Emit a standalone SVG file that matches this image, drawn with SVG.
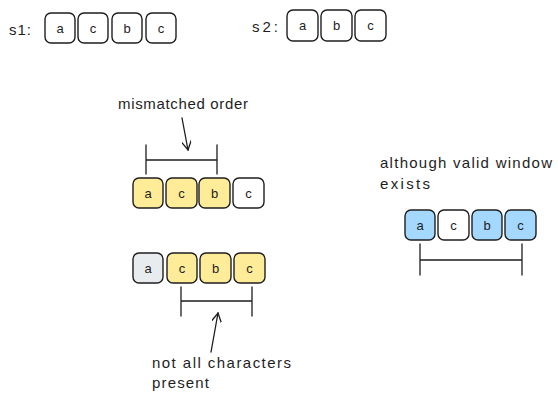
<svg xmlns="http://www.w3.org/2000/svg" width="558" height="403" viewBox="0 0 558 403">
<defs>
<style>
.t{font-family:"Liberation Sans","DejaVu Sans",sans-serif;font-size:15px;fill:#1e1e1e}
.c{font-family:"Liberation Sans","DejaVu Sans",sans-serif;font-size:13px;fill:#1e1e1e;text-anchor:middle}
.b{stroke:#1e1e1e;stroke-width:1.4;fill:#ffffff}
.y{fill:#ffec99}
.bl{fill:#a5d8ff}
.g{fill:#e9ecef}
.ln{stroke:#1e1e1e;stroke-width:1.3;fill:none;stroke-linecap:round}
</style>
<marker id="ah" viewBox="0 0 10 10" refX="9" refY="5" markerWidth="10" markerHeight="10" orient="auto-start-reverse" markerUnits="userSpaceOnUse">
<path d="M0,0 L9,5 L0,10" fill="none" stroke="#1e1e1e" stroke-width="1.3"/>
</marker>
</defs>
<rect width="558" height="403" fill="#ffffff"/>

<g id="s1">
<text class="t" x="9" y="35" textLength="22">s1:</text>
<g id="s1-0"><rect class="b" x="45" y="13" width="30" height="30" rx="6"/><text class="c" x="60" y="32.5">a</text></g>
<g id="s1-1"><rect class="b" x="78" y="13" width="30" height="30" rx="6"/><text class="c" x="93" y="32.5">c</text></g>
<g id="s1-2"><rect class="b" x="112" y="13" width="30" height="30" rx="6"/><text class="c" x="127" y="32.5">b</text></g>
<g id="s1-3"><rect class="b" x="146" y="13" width="30" height="30" rx="6"/><text class="c" x="161" y="32.5">c</text></g>
</g>

<g id="s2">
<text class="t" x="252" y="32" textLength="26">s2:</text>
<g id="s2-0"><rect class="b" x="287" y="10" width="31" height="31" rx="6"/><text class="c" x="302.5" y="30">a</text></g>
<g id="s2-1"><rect class="b" x="321" y="10" width="31" height="31" rx="6"/><text class="c" x="336.5" y="30">b</text></g>
<g id="s2-2"><rect class="b" x="355" y="10" width="31" height="31" rx="6"/><text class="c" x="370.5" y="30">c</text></g>
</g>

<g id="row1">
<g id="r1-0"><rect class="b y" x="133" y="178" width="30" height="30" rx="6"/><text class="c" x="148" y="197.5">a</text></g>
<g id="r1-1"><rect class="b y" x="166" y="178" width="31" height="30" rx="6"/><text class="c" x="181.5" y="197.5">c</text></g>
<g id="r1-2"><rect class="b y" x="199" y="178" width="31" height="30" rx="6"/><text class="c" x="214.5" y="197.5">b</text></g>
<g id="r1-3"><rect class="b" x="233" y="178" width="31" height="30" rx="6"/><text class="c" x="248.5" y="197.5">c</text></g>
</g>

<g id="row2">
<g id="r2-0"><rect class="b g" x="133" y="253" width="30" height="30" rx="6"/><text class="c" x="148" y="272.5">a</text></g>
<g id="r2-1"><rect class="b y" x="167" y="253" width="30" height="30" rx="6"/><text class="c" x="182" y="272.5">c</text></g>
<g id="r2-2"><rect class="b y" x="200" y="253" width="31" height="30" rx="6"/><text class="c" x="215.5" y="272.5">b</text></g>
<g id="r2-3"><rect class="b y" x="234" y="253" width="31" height="30" rx="6"/><text class="c" x="249.5" y="272.5">c</text></g>
</g>

<g id="row3">
<g id="r3-0"><rect class="b bl" x="405" y="210" width="30" height="30" rx="6"/><text class="c" x="420" y="229.5">a</text></g>
<g id="r3-1"><rect class="b" x="438" y="210" width="31" height="30" rx="6"/><text class="c" x="453.5" y="229.5">c</text></g>
<g id="r3-2"><rect class="b bl" x="472" y="210" width="30" height="30" rx="6"/><text class="c" x="487" y="229.5">b</text></g>
<g id="r3-3"><rect class="b bl" x="505" y="210" width="31" height="30" rx="6"/><text class="c" x="520.5" y="229.5">c</text></g>
</g>

<g id="labels">
<text class="t" x="118" y="109" textLength="130">mismatched order</text>
<text class="t" x="152" y="368" textLength="139">not all characters</text>
<text class="t" x="152" y="388" textLength="57">present</text>
<text class="t" x="380" y="168" textLength="172">although valid window</text>
<text class="t" x="380" y="189" textLength="50">exists</text>
</g>

<g id="connectors">
<path class="ln" d="M146,145 L146,174 M217,145 L217,174 M146,160 L217,160"/>
<path class="ln" d="M182,118 L188,150" marker-end="url(#ah)"/>
<path class="ln" d="M181,287 L181,316 M252,287 L252,316 M181,301 L252,301"/>
<path class="ln" d="M211,352 L218,313" marker-end="url(#ah)"/>
<path class="ln" d="M420,244 L420,275 M522,244 L522,275 M420,260 L522,260"/>
</g>
</svg>
